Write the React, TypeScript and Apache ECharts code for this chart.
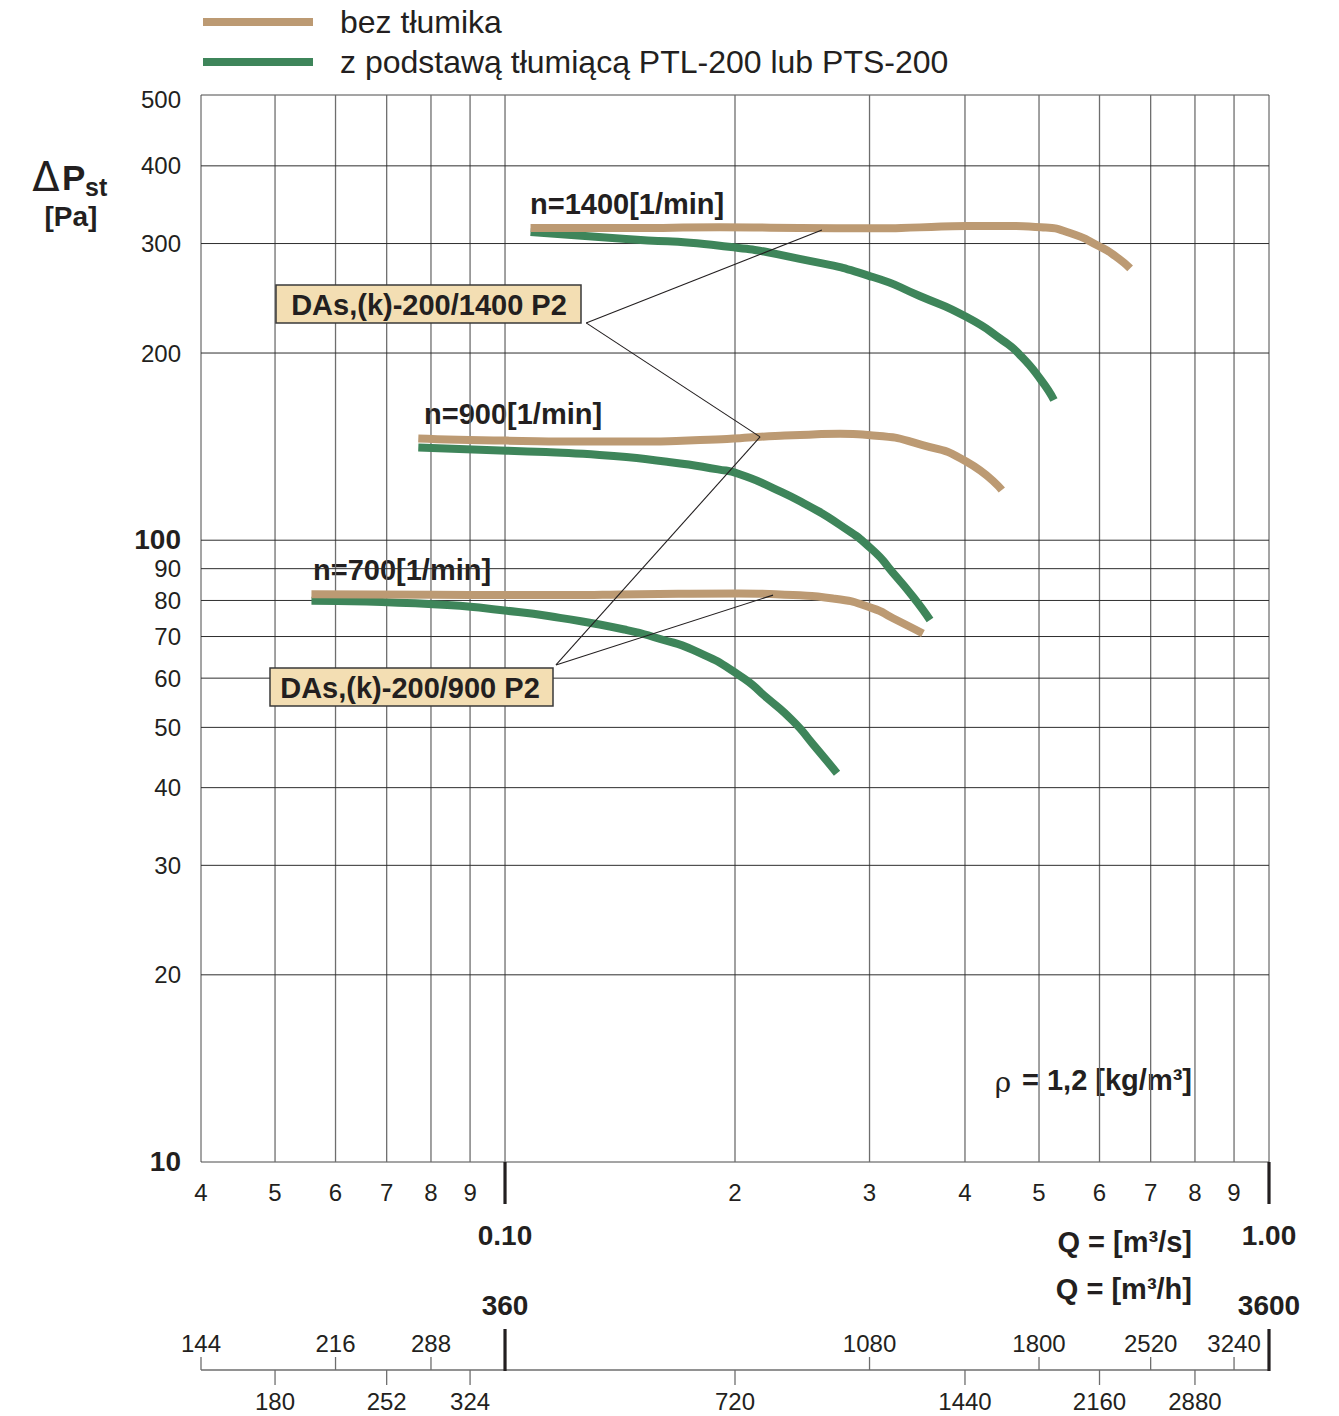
import React, { useEffect, useRef } from 'react';
import * as echarts from 'echarts';

const FONT = '"Liberation Sans", Arial, Helvetica, sans-serif';
const TAN = '#BC9A73';
const GREEN = '#3E855A';
const INK = '#231F20';
const VGRID = '#6E6E6E';
const HGRID = '#2E2E2E';

const LEGEND_TAN = 'bez tłumika';
const LEGEND_GREEN = 'z podstawą tłumiącą PTL-200 lub PTS-200';

// axis ranges
const Q_MIN = 0.04;
const Q_MAX = 1.0;
const P_MIN = 10;
const P_MAX = 520;
const QH_MIN = 144;
const QH_MAX = 3600;

// grid / ticks
const xGridValues = [0.05, 0.06, 0.07, 0.08, 0.09, 0.1, 0.2, 0.3, 0.4, 0.5, 0.6, 0.7, 0.8, 0.9];
const xMinorLabelValues = [0.04, 0.05, 0.06, 0.07, 0.08, 0.09, 0.2, 0.3, 0.4, 0.5, 0.6, 0.7, 0.8, 0.9];
const xMinorLabels = ['4', '5', '6', '7', '8', '9', '2', '3', '4', '5', '6', '7', '8', '9'];
const xMajorValues = [0.1, 1.0];
const xMajorLabels = ['0.10', '1.00'];
const yGridValues = [20, 30, 40, 50, 60, 70, 80, 90, 100, 200, 300, 400];
const yLabelValues = [10, 20, 30, 40, 50, 60, 70, 80, 90, 100, 200, 300, 400, 500];
const yBoldValues = [10, 100];
const qhUpperTicks = [144, 216, 288, 1080, 1800, 2520, 3240];
const qhLowerTicks = [180, 252, 324, 720, 1440, 2160, 2880];
const qhMajorTicks = [360, 3600];

// curves  (Q in m3/s, dP in Pa)
const qTan1400 = [0.108, 0.144, 0.191, 0.243, 0.303, 0.349, 0.402, 0.449, 0.503, 0.549, 0.601, 0.629, 0.658];
const pTan1400 = [317.8, 317.8, 318.6, 317.8, 317.5, 318.5, 320.2, 320.2, 318.6, 311.9, 296.5, 286.5, 273.7];
const qGreen1400 = [0.108, 0.144, 0.191, 0.243, 0.303, 0.349, 0.402, 0.449, 0.472, 0.503, 0.523];
const pGreen1400 = [313.1, 305.1, 297.5, 283.4, 265.0, 247.0, 228.5, 209.2, 198.6, 181.0, 168.1];

const qTan900 = [0.077, 0.1006, 0.133, 0.15, 0.18, 0.203, 0.2137, 0.2433, 0.2745, 0.303, 0.352, 0.402, 0.447];
const pTan900 = [145.8, 144.6, 144.1, 144.1, 144.9, 145.9, 146.6, 147.6, 148.3, 147.4, 142.2, 133.7, 120.4];
const qGreen900 = [0.077, 0.1006, 0.133, 0.163, 0.19, 0.2024, 0.2243, 0.2484, 0.2745, 0.303, 0.322, 0.342, 0.36];
const pGreen900 = [141.0, 139.3, 137.1, 133.7, 130.0, 127.8, 121.3, 113.9, 105.8, 96.4, 88.6, 81.1, 74.4];

const qTan700 = [0.0558, 0.0805, 0.1006, 0.118, 0.15, 0.2024, 0.2382, 0.2687, 0.303, 0.322, 0.3524];
const pTan700 = [81.9, 81.7, 81.6, 81.6, 81.9, 82.1, 81.6, 80.6, 77.7, 74.9, 70.8];
const qGreen700 = [0.0558, 0.0805, 0.1006, 0.118, 0.1444, 0.1596, 0.1762, 0.2024, 0.2203, 0.2382, 0.2529, 0.272];
const pGreen700 = [79.9, 78.9, 77.0, 75.0, 71.7, 69.35, 66.6, 60.7, 55.75, 51.2, 47.0, 42.2];

// leader lines of the model boxes
const qLeader1400a = [0.1277, 0.2599];
const pLeader1400a = [223.6, 315.4];
const qLeader1400b = [0.1277, 0.2157];
const pLeader1400b = [223.6, 146.6];
const qLeader900a = [0.1166, 0.2157];
const pLeader900a = [63.0, 146.6];
const qLeader900b = [0.1166, 0.2243];
const pLeader900b = [63.0, 81.6];

const zip = (q: number[], p: number[]) => q.map((v, i) => [v, p[i]]);

const txt = (
  x: number,
  y: number,
  text: string,
  font: string,
  align = 'center',
  vAlign = 'middle',
  fill = INK
): any => ({
  type: 'text',
  x,
  y,
  style: { text, font, fill, align, verticalAlign: vAlign, textAlign: align, textVerticalAlign: vAlign },
});

const curve = (name: string, color: string, q: number[], p: number[], z: number) => ({
  type: 'line',
  name,
  data: zip(q, p),
  smooth: 0.6,
  showSymbol: false,
  symbol: 'none',
  color,
  itemStyle: { color },
  lineStyle: { color, width: 8 },
  z,
  silent: true,
  animation: false,
});

const leader = (q: number[], p: number[]) => ({
  type: 'line',
  data: zip(q, p),
  showSymbol: false,
  symbol: 'none',
  lineStyle: { color: INK, width: 1.1 },
  z: 6,
  silent: true,
});

const F_NORM = `24px ${FONT}`;
const F_BOLD = `bold 29px ${FONT}`;
const F_BOLD28 = `bold 28px ${FONT}`;

function buildOption(): any {
  const topLabel = yLabelValues[yLabelValues.length - 1];
  return {
    animation: false,
    backgroundColor: '#ffffff',
    legend: {
      orient: 'vertical',
      left: 203,
      top: 6,
      padding: 0,
      itemGap: 8,
      itemWidth: 110,
      itemHeight: 8,
      icon: 'rect',
      selectedMode: false,
      data: [LEGEND_TAN, LEGEND_GREEN],
      textStyle: { fontSize: 32, color: INK, fontFamily: FONT, padding: [0, 0, 0, 22] },
    },
    grid: {
      left: 201,
      top: 95,
      width: 1068,
      height: 1067,
      show: true,
      borderColor: '#4a4a4a',
      borderWidth: 1,
      backgroundColor: 'transparent',
    },
    xAxis: [
      {
        type: 'log',
        logBase: 10,
        min: Q_MIN,
        max: Q_MAX,
        axisLine: { show: false },
        axisTick: { show: false },
        axisLabel: { show: false },
        splitLine: { show: false },
      },
      {
        type: 'log',
        logBase: 10,
        min: QH_MIN,
        max: QH_MAX,
        show: false,
        axisLine: { show: false },
        axisTick: { show: false },
        axisLabel: { show: false },
        splitLine: { show: false },
      },
    ],
    yAxis: {
      type: 'log',
      logBase: 10,
      min: P_MIN,
      max: P_MAX,
      axisLine: { show: false },
      axisTick: { show: false },
      axisLabel: { show: false },
      splitLine: { show: false },
    },
    series: [
      // vertical grid lines
      {
        type: 'custom',
        silent: true,
        z: 1,
        data: xGridValues.map((v) => [v, P_MIN]),
        renderItem: (_p: any, api: any) => {
          const a = api.coord([api.value(0), P_MIN]);
          const b = api.coord([api.value(0), P_MAX]);
          return {
            type: 'line',
            shape: { x1: a[0], y1: a[1], x2: b[0], y2: b[1] },
            style: { stroke: VGRID, lineWidth: 1.3 },
          };
        },
      },
      // horizontal grid lines
      {
        type: 'custom',
        silent: true,
        z: 1,
        data: yGridValues.map((v) => [Q_MIN, v]),
        renderItem: (_p: any, api: any) => {
          const a = api.coord([Q_MIN, api.value(1)]);
          const b = api.coord([Q_MAX, api.value(1)]);
          return {
            type: 'line',
            shape: { x1: a[0], y1: a[1], x2: b[0], y2: b[1] },
            style: { stroke: HGRID, lineWidth: 1 },
          };
        },
      },
      // y labels
      {
        type: 'custom',
        silent: true,
        z: 2,
        data: yLabelValues.map((v) => [Q_MIN, v]),
        renderItem: (_p: any, api: any) => {
          const v = api.value(1);
          const a = api.coord([Q_MIN, v]);
          const top = api.coord([Q_MIN, P_MAX])[1];
          const bold = yBoldValues.indexOf(v) >= 0;
          const y = v === topLabel ? top + 4 : a[1] + (bold ? -1 : 0);
          return txt(a[0] - 20, y, String(v), bold ? F_BOLD28 : F_NORM, 'right');
        },
      },
      // x minor labels (m3/s)
      {
        type: 'custom',
        silent: true,
        z: 2,
        data: xMinorLabelValues.map((v, i) => [v, P_MIN, i]),
        renderItem: (_p: any, api: any) => {
          const a = api.coord([api.value(0), P_MIN]);
          return txt(a[0], a[1] + 30, xMinorLabels[api.value(2)], F_NORM);
        },
      },
      // x major ticks + labels (m3/s)
      {
        type: 'custom',
        silent: true,
        z: 2,
        data: xMajorValues.map((v, i) => [v, P_MIN, i]),
        renderItem: (_p: any, api: any) => {
          const a = api.coord([api.value(0), P_MIN]);
          return {
            type: 'group',
            children: [
              {
                type: 'line',
                shape: { x1: a[0], y1: a[1], x2: a[0], y2: a[1] + 42 },
                style: { stroke: INK, lineWidth: 3.2 },
              },
              txt(a[0], a[1] + 73, xMajorLabels[api.value(2)], F_BOLD28),
            ],
          };
        },
      },
      // m3/h axis line
      {
        type: 'custom',
        silent: true,
        xAxisIndex: 1,
        z: 2,
        data: [[QH_MIN, P_MIN]],
        renderItem: (_p: any, api: any) => {
          const a = api.coord([QH_MIN, P_MIN]);
          const b = api.coord([QH_MAX, P_MIN]);
          return {
            type: 'line',
            shape: { x1: a[0], y1: a[1] + 208, x2: b[0], y2: b[1] + 208 },
            style: { stroke: VGRID, lineWidth: 1.3 },
          };
        },
      },
      // m3/h upper ticks
      {
        type: 'custom',
        silent: true,
        xAxisIndex: 1,
        z: 2,
        data: qhUpperTicks.map((v) => [v, P_MIN]),
        renderItem: (_p: any, api: any) => {
          const v = api.value(0);
          const a = api.coord([v, P_MIN]);
          return {
            type: 'group',
            children: [
              {
                type: 'line',
                shape: { x1: a[0], y1: a[1] + 195, x2: a[0], y2: a[1] + 208 },
                style: { stroke: VGRID, lineWidth: 1.3 },
              },
              txt(a[0], a[1] + 181, String(v), F_NORM),
            ],
          };
        },
      },
      // m3/h lower ticks
      {
        type: 'custom',
        silent: true,
        xAxisIndex: 1,
        z: 2,
        data: qhLowerTicks.map((v) => [v, P_MIN]),
        renderItem: (_p: any, api: any) => {
          const v = api.value(0);
          const a = api.coord([v, P_MIN]);
          return {
            type: 'group',
            children: [
              {
                type: 'line',
                shape: { x1: a[0], y1: a[1] + 208, x2: a[0], y2: a[1] + 223 },
                style: { stroke: VGRID, lineWidth: 1.3 },
              },
              txt(a[0], a[1] + 239, String(v), F_NORM),
            ],
          };
        },
      },
      // m3/h major ticks
      {
        type: 'custom',
        silent: true,
        xAxisIndex: 1,
        z: 2,
        data: qhMajorTicks.map((v) => [v, P_MIN]),
        renderItem: (_p: any, api: any) => {
          const v = api.value(0);
          const a = api.coord([v, P_MIN]);
          return {
            type: 'group',
            children: [
              {
                type: 'line',
                shape: { x1: a[0], y1: a[1] + 167, x2: a[0], y2: a[1] + 209 },
                style: { stroke: INK, lineWidth: 3.2 },
              },
              txt(a[0], a[1] + 143, String(v), F_BOLD28),
            ],
          };
        },
      },
      // curves
      curve(LEGEND_GREEN, GREEN, qGreen1400, pGreen1400, 3),
      curve(LEGEND_GREEN, GREEN, qGreen900, pGreen900, 3),
      curve(LEGEND_GREEN, GREEN, qGreen700, pGreen700, 3),
      curve(LEGEND_TAN, TAN, qTan1400, pTan1400, 4),
      curve(LEGEND_TAN, TAN, qTan900, pTan900, 4),
      curve(LEGEND_TAN, TAN, qTan700, pTan700, 4),
      leader(qLeader1400a, pLeader1400a),
      leader(qLeader1400b, pLeader1400b),
      leader(qLeader900a, pLeader900a),
      leader(qLeader900b, pLeader900b),
    ],
    graphic: [
      // axis title
      txt(46, 177, 'Δ', `40px "DejaVu Sans", ${FONT}`),
      txt(62, 177, 'P', `bold 35px ${FONT}`, 'left'),
      txt(85, 187, 'st', `bold 25px ${FONT}`, 'left'),
      txt(71, 216, '[Pa]', F_BOLD28),
      // speed labels
      txt(530, 204, 'n=1400[1/min]', F_BOLD, 'left'),
      txt(424, 414, 'n=900[1/min]', F_BOLD, 'left'),
      txt(313, 570, 'n=700[1/min]', F_BOLD, 'left'),
      // model boxes
      {
        type: 'rect',
        shape: { x: 276, y: 285, width: 305, height: 38 },
        style: { fill: '#F3DEB3', stroke: '#3A3A3A', lineWidth: 1.5 },
        z: 100,
      },
      { ...txt(429, 305, 'DAs,(k)-200/1400 P2', F_BOLD), z: 101 },
      {
        type: 'rect',
        shape: { x: 270, y: 668, width: 283, height: 38 },
        style: { fill: '#F3DEB3', stroke: '#3A3A3A', lineWidth: 1.5 },
        z: 100,
      },
      { ...txt(410, 688, 'DAs,(k)-200/900 P2', F_BOLD), z: 101 },
      // density
      txt(1003, 1082, 'ρ', `28px "DejaVu Serif", serif`),
      txt(1192, 1080, '= 1,2 [kg/m³]', F_BOLD, 'right'),
      // units
      txt(1192, 1242, 'Q = [m³/s]', F_BOLD, 'right'),
      txt(1192, 1289, 'Q = [m³/h]', F_BOLD, 'right'),
    ],
  };
}

export default function App() {
  const ref = useRef<HTMLDivElement>(null);
  useEffect(() => {
    if (!ref.current) return;
    const chart = echarts.init(ref.current, null, { renderer: 'svg' });
    chart.setOption(buildOption());
    return () => {
      chart.dispose();
    };
  }, []);
  return (
    <div
      ref={ref}
      style={{ position: 'absolute', left: 0, top: 0, width: 1339, height: 1416, background: '#fff' }}
    />
  );
}
